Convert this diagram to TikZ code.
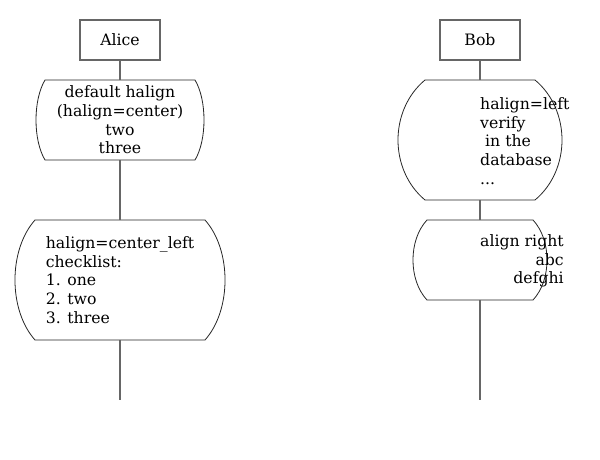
\documentclass[tikz,border=0pt]{standalone}
\usepackage{fontspec}
\setmainfont{DejaVu Serif}
\begin{document}
\begin{tikzpicture}[x=1pt,y=-1pt,
  actor/.style={draw=black!60,line width=1.1pt,minimum width=80pt,minimum height=40pt,inner sep=0pt,font=\fontsize{15.7}{18.7}\selectfont},
  life/.style={draw=black!60,line width=1.1pt},
  area/.style={inner sep=0pt,outer sep=0pt},
  txt/.style={inner sep=0pt,font=\fontsize{15.7}{18.7}\selectfont},
  outline/.style={draw=black!85,line width=0.8pt}]
\useasboundingbox (0,0) rectangle (600,460);
\newcommand\bulgebox[3]{%
  \draw[outline] (#1.north west) -- (#1.north east)
    .. controls +(#2,#3) and +(#2,-#3) .. (#1.south east)
    -- (#1.south west)
    .. controls +(-#2,-#3) and +(-#2,#3) .. (#1.north west) -- cycle;}
% actors
\node[actor] (alice) at (120,40) {Alice};
\node[actor] (bob) at (480,40) {Bob};
% Alice notes
\node[area,minimum width=150pt,minimum height=80pt] (a1) at (120,120) {};
\bulgebox{a1}{12}{20}
\node[txt,align=center] (a1t) at (a1.center) {default halign\\(halign=center)\\two\\three};
\node[area,minimum width=170pt,minimum height=120pt] (a2) at (120,280) {};
\bulgebox{a2}{26.7}{30}
\node[txt,align=left] (a2t) at (a2.center) {halign=center\_left\\checklist:\\1. one\\2. two\\3. three};
% Bob notes
\node[area,minimum width=110pt,minimum height=120pt] (b1) at (480,140) {};
\bulgebox{b1}{36}{30}
\node[txt,align=left,anchor=west] (b1t) at (480,141) {halign=left\\verify\\\ in the\\database\\...};
\node[area,minimum width=106pt,minimum height=80pt] (b2) at (480,260) {};
\bulgebox{b2}{18.7}{20}
\node[txt,align=right,anchor=west] (b2t) at (480,261) {align right\\abc\\defghi};
% lifelines
\coordinate (aend) at (120,400);
\coordinate (bend) at (480,400);
\draw[life] (alice) -- (a1);
\draw[life] (a1) -- (a2);
\draw[life] (a2) -- (aend);
\draw[life] (bob) -- (b1);
\draw[life] (b1) -- (b2);
\draw[life] (b2) -- (bend);
\end{tikzpicture}
\end{document}
